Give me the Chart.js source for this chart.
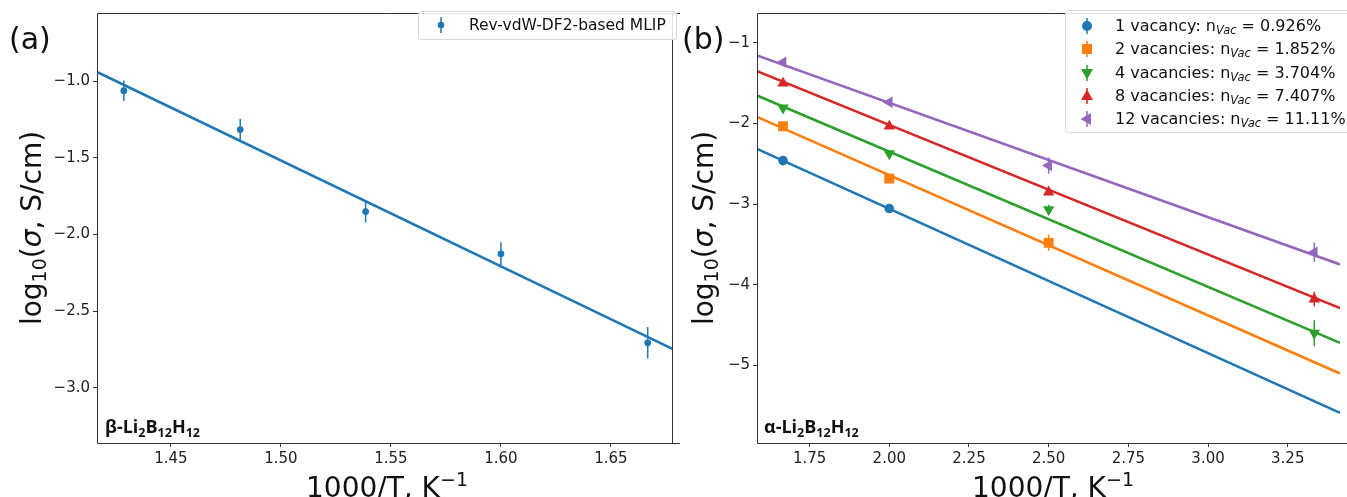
<!DOCTYPE html>
<html lang="en">
<head>
<meta charset="UTF-8">
<title>Li2B12H12 conductivity</title>
<script src="https://cdn.jsdelivr.net/npm/chart.js@4.4.1/dist/chart.umd.min.js"></script>
<style>
    body { margin: 0; background: #fff; overflow: hidden; font-family: 'DejaVu Sans', sans-serif; color: #111; }
    .page { position: relative; width: 1347px; height: 497px; overflow: hidden; }
    .cv { position: absolute; top: 0; }
    .lbl { position: absolute; white-space: nowrap; line-height: 1; }
    .panel { font-size: 30px; }
    .ytitle { font-size: 28px; transform: translate(-50%, -50%) rotate(-90deg); }
    .xtitle { font-size: 28px; transform: translateX(-50%); }
    .xtitle sup { font-size: 19px; vertical-align: 11px; }
    .ytitle sub { font-size: 19px; vertical-align: -5px; }
    .phase { font-family: 'Open Sans', sans-serif; font-weight: bold; font-size: 18px; }
    .phase sub { font-size: 12.5px; vertical-align: -4px; }
    .legend { position: absolute; background: rgba(255,255,255,0.85); border: 1px solid #d8d8d8; border-radius: 3px; font-size: 15.5px; }
    .legend .row { position: relative; height: 23.3px; line-height: 23.3px; white-space: nowrap; }
    .legend svg { position: absolute; top: 0; }
    .legend sub { font-style: italic; font-size: 11.5px; vertical-align: -3px; }
</style>
</head>
<body>
<div class="page">
    <canvas id="chartA" class="cv" style="left:0" width="680" height="497"></canvas>
    <canvas id="chartB" class="cv" style="left:680px" width="667" height="497"></canvas>

    <div class="lbl panel" style="left:9px; top:24px">(a)</div>
    <div class="lbl panel" style="left:682px; top:24px">(b)</div>

    <div class="lbl ytitle" style="left:33px; top:228px">log<sub>10</sub>(<i>σ</i>, S/cm)</div>
    <div class="lbl ytitle" style="left:705px; top:228px">log<sub>10</sub>(<i>σ</i>, S/cm)</div>

    <div class="lbl xtitle" style="left:387px; top:470px">1000/T, K<sup>−1</sup></div>
    <div class="lbl xtitle" style="left:1053px; top:470px">1000/T, K<sup>−1</sup></div>

    <div class="lbl phase" style="left:105px; top:417px">β-Li<sub>2</sub>B<sub>12</sub>H<sub>12</sub></div>
    <div class="lbl phase" style="left:764px; top:417px">α-Li<sub>2</sub>B<sub>12</sub>H<sub>12</sub></div>

    <div class="legend" style="left:418px; top:11px; width:257px; height:27px">
        <div class="row" style="height:27px; line-height:27px">
            <svg width="14" height="27" style="left:15px"><line x1="7" y1="5" x2="7" y2="21" stroke="#1f77b4" stroke-width="1.5"/><circle cx="7" cy="13" r="3.3" fill="#1f77b4"/></svg>
            <span style="position:absolute; left:50px">Rev-vdW-DF2-based MLIP</span>
        </div>
    </div>

    <div class="legend" id="legendB" style="left:1065px; top:10px; width:300px; height:123px; font-size:16px; padding-top:3px; box-sizing:border-box"></div>
</div>

<script>
    // ---- panel (a): beta phase ----
    const xA = [1.4286, 1.4815, 1.5385, 1.6000, 1.6667];
    const yA = [-1.061, -1.315, -1.850, -2.126, -2.707];
    const errA = [0.067, 0.070, 0.072, 0.075, 0.103];
    const fitXA = [1.4164, 1.6782];
    const fitYA = [-0.939, -2.748];
    const xTicksA = [1.45, 1.50, 1.55, 1.60, 1.65];
    const yTicksA = [-1.0, -1.5, -2.0, -2.5, -3.0];

    // ---- panel (b): alpha phase with vacancies ----
    const xB = [1.6667, 2.0, 2.5, 3.3333];
    const vac1 = [-2.459, -3.054, null, null];
    const vac2 = [-2.033, -2.682, -3.479, null];
    const vac4 = [-1.805, -2.372, -3.066, -4.600];
    const vac8 = [-1.500, -2.033, -2.851, -4.178];
    const vac12 = [-1.240, -1.735, -2.521, -3.596];
    const err1 = [0.02, 0.02, null, null];
    const err2 = [0.03, 0.03, 0.10, null];
    const err4 = [0.03, 0.03, 0.06, 0.16];
    const err8 = [0.03, 0.03, 0.04, 0.09];
    const err12 = [0.03, 0.03, 0.10, 0.12];
    const fitXB = [1.585, 3.414];
    const fit1 = [-2.314, -5.590];
    const fit2 = [-1.917, -5.100];
    const fit4 = [-1.652, -4.720];
    const fit8 = [-1.350, -4.290];
    const fit12 = [-1.154, -3.748];
    const xTicksB = [1.75, 2.00, 2.25, 2.50, 2.75, 3.00, 3.25];
    const yTicksB = [-1, -2, -3, -4, -5];

    const seriesB = [
        { label: '1 vacancy', pct: '0.926%', y: vac1, err: err1, fit: fit1, color: '#1f77b4', style: 'circle', rot: 0, r: 4.8 },
        { label: '2 vacancies', pct: '1.852%', y: vac2, err: err2, fit: fit2, color: '#ff7f0e', style: 'rect', rot: 0, r: 7 },
        { label: '4 vacancies', pct: '3.704%', y: vac4, err: err4, fit: fit4, color: '#2ca02c', style: 'triangle', rot: 180, r: 6.6 },
        { label: '8 vacancies', pct: '7.407%', y: vac8, err: err8, fit: fit8, color: '#d62728', style: 'triangle', rot: 0, r: 6.6 },
        { label: '12 vacancies', pct: '11.11%', y: vac12, err: err12, fit: fit12, color: '#9467bd', style: 'triangle', rot: 270, r: 6.6 }
    ];

    const pts = (xs, ys) => xs.map((x, i) => ({ x: x, y: ys[i] })).filter(p => p.y !== null);
    const minus = s => String(s).replace('-', '\u2212');

    // error bars drawn under the markers
    const errorBars = {
        id: 'errorBars',
        beforeDatasetsDraw(chart) {
            const { ctx, scales: { x, y } } = chart;
            ctx.save();
            chart.data.datasets.forEach(ds => {
                if (!ds.errors) return;
                ds.errors.forEach((e, j) => {
                    const p = ds.srcY[j];
                    if (p === null || e === null) return;
                    const px = x.getPixelForValue(ds.srcX[j]);
                    ctx.strokeStyle = ds.borderColor;
                    ctx.lineWidth = 1.5;
                    ctx.beginPath();
                    ctx.moveTo(px, y.getPixelForValue(p - e));
                    ctx.lineTo(px, y.getPixelForValue(p + e));
                    ctx.stroke();
                });
            });
            ctx.restore();
        }
    };

    // axes frame
    const frame = {
        id: 'frame',
        afterDraw(chart, args, opts) {
            const { ctx, chartArea: a } = chart;
            ctx.save();
            ctx.strokeStyle = '#333';
            ctx.lineWidth = 1;
            ctx.beginPath();
            const l = Math.round(a.left) + 0.5, t = Math.round(a.top) + 0.5;
            const r = Math.round(a.right) - 0.5, b = Math.round(a.bottom) + 0.5;
            ctx.moveTo(r + 10, t); ctx.lineTo(l, t); ctx.lineTo(l, b); ctx.lineTo(r + 10, b);
            if (opts.right) { ctx.moveTo(r, t); ctx.lineTo(r, b); }
            ctx.stroke();
            ctx.restore();
        }
    };

    function axis(min, max, ticks, digits, size) {
        return {
            type: 'linear', min: min, max: max,
            afterBuildTicks: ax => { ax.ticks = ticks.map(v => ({ value: v })); },
            afterFit: ax => { if (size.w) ax.width = size.w; if (size.h) ax.height = size.h; },
            border: { display: false },
            grid: { display: true, drawOnChartArea: false, drawTicks: true, tickLength: 4, color: '#333', lineWidth: 1 },
            ticks: {
                color: '#222', padding: 3,
                font: { family: 'DejaVu Sans', size: 15 },
                callback: v => minus(Number(v).toFixed(digits))
            }
        };
    }

    new Chart(document.getElementById('chartA'), {
        type: 'scatter',
        data: {
            datasets: [
                {
                    data: pts(fitXA, fitYA), showLine: true, pointRadius: 0,
                    borderColor: '#1f77b4', borderWidth: 2.6
                },
                {
                    data: pts(xA, yA), srcX: xA, srcY: yA, errors: errA,
                    pointRadius: 3.4, pointStyle: 'circle',
                    backgroundColor: '#1f77b4', borderColor: '#1f77b4', borderWidth: 0
                }
            ]
        },
        options: {
            responsive: false, animation: false,
            layout: { padding: { left: 0, right: 7, top: 13, bottom: 0 } },
            plugins: { legend: { display: false }, tooltip: { enabled: false }, frame: { right: true } },
            scales: {
                x: axis(1.4164, 1.6782, xTicksA, 2, { h: 54 }),
                y: axis(-3.361, -0.554, yTicksA, 1, { w: 97 })
            }
        },
        plugins: [errorBars, frame]
    });

    const dsB = [];
    seriesB.forEach(s => {
        dsB.push({
            data: pts(fitXB, s.fit), showLine: true, pointRadius: 0,
            borderColor: s.color, borderWidth: 2.6
        });
    });
    seriesB.forEach(s => {
        dsB.push({
            data: pts(xB, s.y), srcX: xB, srcY: s.y, errors: s.err,
            pointRadius: s.r, pointStyle: s.style, rotation: s.rot,
            backgroundColor: s.color, borderColor: s.color, borderWidth: 0
        });
    });

    new Chart(document.getElementById('chartB'), {
        type: 'scatter',
        data: { datasets: dsB },
        options: {
            responsive: false, animation: false,
            layout: { padding: { left: 0, right: 0, top: 13, bottom: 0 } },
            plugins: { legend: { display: false }, tooltip: { enabled: false }, frame: { right: false } },
            scales: {
                x: axis(1.585, 3.414, xTicksB, 2, { h: 54 }),
                y: axis(-5.963, -0.628, yTicksB, 0, { w: 77 })
            }
        },
        plugins: [errorBars, frame]
    });

    // legend for panel (b)
    const shapes = {
        circle: c => `<circle cx="8" cy="12" r="5" fill="${c}"/>`,
        rect: c => `<rect x="3" y="7" width="10" height="10" fill="${c}"/>`,
        triangle: (c, r) => `<polygon points="8,5.5 14,16 2,16" fill="${c}" transform="rotate(${r} 8 12)"/>`
    };
    const leg = document.getElementById('legendB');
    seriesB.forEach(s => {
        const row = document.createElement('div');
        row.className = 'row';
        row.innerHTML = `<svg width="16" height="23" style="left:13px"><line x1="8" y1="4" x2="8" y2="20" stroke="${s.color}" stroke-width="1.5"/>${shapes[s.style](s.color, s.rot)}</svg>` +
            `<span style="position:absolute; left:49px">${s.label}: n<sub>Vac</sub> = ${s.pct}</span>`;
        leg.appendChild(row);
    });
</script>
</body>
</html>
